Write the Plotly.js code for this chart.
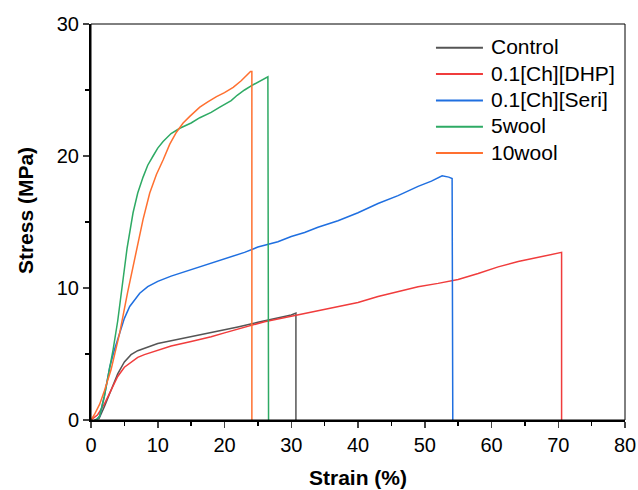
<!DOCTYPE html>
<html>
<head>
<meta charset="utf-8">
<script src="https://cdn.plot.ly/plotly-3.0.1.min.js"></script>
<style>html,body{margin:0;padding:0;background:#fff;}#chart{width:638px;height:490px;}</style>
</head>
<body>
<div id="chart"></div>
<script>
const seriesNames = ["Control", "0.1[Ch][DHP]", "0.1[Ch][Seri]", "5wool", "10wool"];
const xTitle = "Strain (%)";
const yTitle = "Stress (MPa)";

const controlX = [0.5, 1.2, 2, 3, 4, 5, 6, 7, 8, 10, 12, 15, 18, 20, 22, 25, 28, 30, 30.7, 30.7];
const controlY = [0, 0.1, 1.0, 2.3, 3.5, 4.4, 4.95, 5.25, 5.45, 5.8, 6.0, 6.3, 6.6, 6.85, 7.05, 7.4, 7.7, 7.95, 8.1, 0];

const dhpX = [0, 1, 2, 3, 4, 5, 6, 7, 8, 10, 12, 15, 18, 20, 22, 24, 26, 28, 30, 32, 34, 37, 40, 43, 46, 49, 52, 55, 58, 61, 64, 67, 70.3, 70.5, 70.5];
const dhpY = [0, 0.4, 1.2, 2.3, 3.3, 4.0, 4.4, 4.75, 4.95, 5.3, 5.6, 5.95, 6.3, 6.6, 6.9, 7.2, 7.45, 7.65, 7.85, 8.1, 8.3, 8.6, 8.9, 9.35, 9.7, 10.1, 10.35, 10.65, 11.1, 11.6, 12.0, 12.3, 12.65, 12.7, 0];

const seriX = [0.8, 1.3, 2, 2.8, 3.5, 4.3, 5, 5.8, 6.5, 7.3, 8.5, 10, 12, 15, 18, 20, 23, 25, 28, 30, 32, 34, 37, 40, 43, 46, 49, 51, 52.6, 53.6, 54.1, 54.2];
const seriY = [0, 0.3, 1.8, 4.0, 5.3, 6.6, 7.7, 8.6, 9.1, 9.6, 10.1, 10.5, 10.9, 11.4, 11.9, 12.2, 12.7, 13.1, 13.5, 13.9, 14.2, 14.6, 15.1, 15.7, 16.4, 17.0, 17.7, 18.1, 18.5, 18.4, 18.3, 0];

const wool5X = [0.8, 1.3, 2, 2.7, 3.3, 4, 4.7, 5.4, 6.3, 7, 7.8, 8.5, 9.3, 10, 10.8, 12, 13.3, 15, 16.3, 18, 19.3, 21, 21.9, 23, 24.3, 25.5, 26.5, 26.6];
const wool5Y = [0, 0.3, 1.8, 3.6, 5.3, 7.5, 10.2, 13.0, 15.7, 17.2, 18.4, 19.3, 20.0, 20.6, 21.1, 21.7, 22.1, 22.5, 22.9, 23.3, 23.7, 24.2, 24.6, 25.0, 25.4, 25.7, 26.0, 0];

const wool10X = [0, 0.5, 1.3, 2, 3, 4.3, 5.5, 6.9, 7.8, 8.8, 9.8, 10.8, 11.8, 12.8, 13.8, 14.8, 16.3, 17.5, 18.8, 20, 21.3, 22.5, 23.9, 24.1, 24.1];
const wool10Y = [0, 0.4, 1.2, 2.2, 3.8, 6.6, 9.7, 13.0, 15.2, 17.2, 18.6, 19.7, 20.9, 21.8, 22.5, 23.0, 23.7, 24.1, 24.5, 24.8, 25.2, 25.7, 26.4, 26.4, 0];

const colors = ["#555555", "#f03c3c", "#1f6fe0", "#2eaa64", "#ff7030"];
const xs = [controlX, dhpX, seriX, wool5X, wool10X];
const ys = [controlY, dhpY, seriY, wool5Y, wool10Y];

const traces = seriesNames.map((n, i) => ({
  x: xs[i], y: ys[i], name: n, type: "scatter", mode: "lines",
  line: {color: colors[i], width: 1.5}, showlegend: false
}));

const font = "Arial, 'Liberation Sans', sans-serif";

// custom legend (paper coordinates)
const legX0 = 0.646, legX1 = 0.734, legTextX = 0.745, legY0 = 0.940, legStep = 0.0665;
const legendShapes = seriesNames.map((n, i) => ({
  type: "line", xref: "paper", yref: "paper",
  x0: legX0, x1: legX1, y0: legY0 - i * legStep, y1: legY0 - i * legStep,
  line: {color: colors[i], width: 2}
}));
const legendAnn = seriesNames.map((n, i) => ({
  xref: "paper", yref: "paper", x: legTextX, y: legY0 - i * legStep,
  xanchor: "left", yanchor: "middle", showarrow: false, text: n,
  font: {size: 21, family: font, color: "#000"}, yshift: 1
}));
const yTitleAnn = {
  xref: "paper", yref: "paper", x: -0.1236, y: 0.53, xanchor: "center", yanchor: "middle",
  textangle: -90, showarrow: false, text: "<b>" + yTitle + "</b>",
  font: {size: 21, family: font, color: "#000"}
};

const layout = {
  width: 638, height: 490,
  margin: {l: 91, r: 13, t: 24, b: 70},
  paper_bgcolor: "#fff", plot_bgcolor: "#fff",
  font: {family: font, color: "#000", size: 20},
  showlegend: false,
  xaxis: {
    range: [0, 80], tickvals: [0,10,20,30,40,50,60,70,80], ticks: "outside", ticklen: 6, tickwidth: 1.5,
    showline: true, linewidth: 1.5, linecolor: "#000", showgrid: false, zeroline: false,
    minor: {tickvals: [5,15,25,35,45,55,65,75], ticks: "outside", ticklen: 4, tickwidth: 1.5, tickcolor: "#000", showgrid: false},
    tickfont: {size: 20}, title: {text: "<b>" + xTitle + "</b>", font: {size: 21}, standoff: 16}
  },
  yaxis: {
    range: [0, 30], tickvals: [0,10,20,30], ticks: "outside", ticklen: 6, tickwidth: 1.5,
    showline: true, linewidth: 2, linecolor: "#000", showgrid: false, zeroline: false,
    minor: {tickvals: [5,15,25], ticks: "outside", ticklen: 4, tickwidth: 1.5, tickcolor: "#000", showgrid: false},
    tickfont: {size: 20}
  },
  shapes: [{type: "rect", xref: "paper", yref: "paper", x0: 0, x1: 1, y0: 0, y1: 1,
            line: {color: "#000", width: 1}, layer: "above"}].concat(legendShapes),
  annotations: legendAnn.concat([yTitleAnn])
};

Plotly.newPlot("chart", traces, layout, {displayModeBar: false, staticPlot: true});
</script>
</body>
</html>
